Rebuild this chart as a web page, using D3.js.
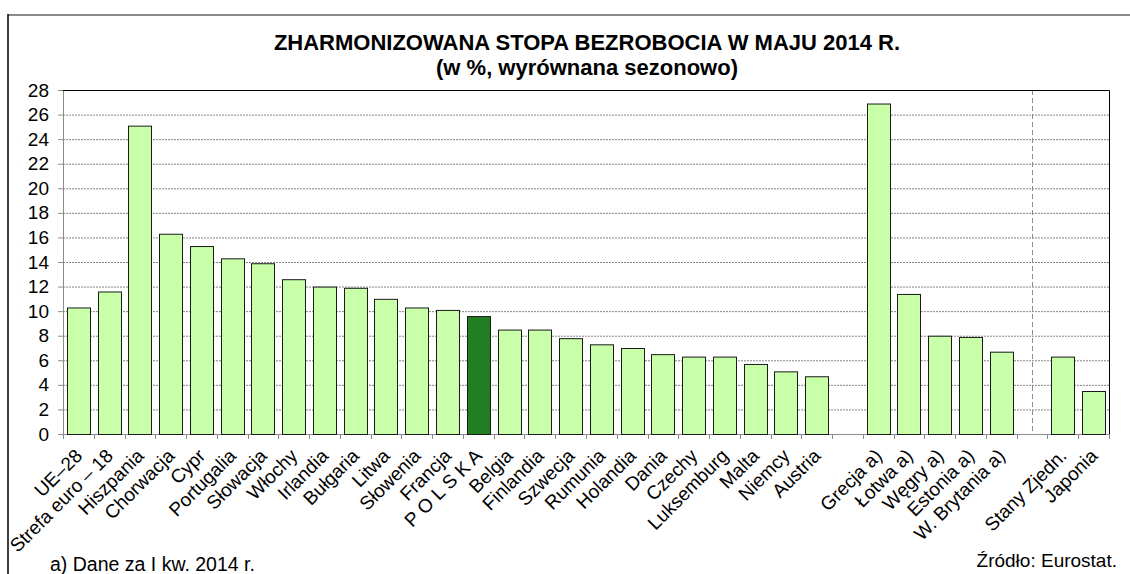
<!DOCTYPE html>
<html>
<head>
<meta charset="utf-8">
<script src="https://cdn.jsdelivr.net/npm/d3@7"></script>
<style>
  body { margin: 0; background: #fff; }
  svg { display: block; }
  text { font-family: "Liberation Sans", Arial, sans-serif; fill: #000; }
</style>
</head>
<body>
<svg id="chart" width="1130" height="574"></svg>
<script>
// Unemployment rate by country, May 2014 (%, seasonally adjusted)
const categories = ["UE–28", "Strefa euro – 18", "Hiszpania", "Chorwacja", "Cypr", "Portugalia",
  "Słowacja", "Włochy", "Irlandia", "Bułgaria", "Litwa", "Słowenia", "Francja", "P O L S K A",
  "Belgia", "Finlandia", "Szwecja", "Rumunia", "Holandia", "Dania", "Czechy", "Luksemburg",
  "Malta", "Niemcy", "Austria", "", "Grecja a)", "Łotwa a)", "Węgry a)", "Estonia a)",
  "W. Brytania a)", "", "Stany Zjedn.", "Japonia"];
const values = [10.3, 11.6, 25.1, 16.3, 15.3, 14.3, 13.9, 12.6, 12.0, 11.9, 11.0, 10.3, 10.1, 9.6,
  8.5, 8.5, 7.8, 7.3, 7.0, 6.5, 6.3, 6.3, 5.7, 5.1, 4.7, null, 26.9, 11.4, 8.0, 7.9, 6.7, null, 6.3, 3.5];
const highlighted = ["P O L S K A"];
const yTicks = [0, 2, 4, 6, 8, 10, 12, 14, 16, 18, 20, 22, 24, 26, 28];
const separatorAfter = 30; // index of the last bar before the dashed divider gap

const titleLines = ["ZHARMONIZOWANA STOPA BEZROBOCIA W MAJU 2014 R.", "(w %, wyrównana sezonowo)"];
const footnote = "a) Dane za I kw. 2014 r.";
const source = "Źródło: Eurostat.";

const svg = d3.select("#chart");
const plot = { left: 63, right: 1109, top: 90, bottom: 434 };

const x = d3.scaleBand()
  .domain(d3.range(categories.length))
  .range([plot.left, plot.right])
  .paddingInner(0.25)
  .paddingOuter(0.125);
const y = d3.scaleLinear().domain([0, 28]).range([plot.bottom, plot.top]);

// outer frame
svg.append("line").attr("x1", 8).attr("x2", 1130).attr("y1", 15).attr("y2", 15)
  .attr("stroke", "#8a8a8a").attr("stroke-width", 2);
svg.append("line").attr("x1", 8).attr("x2", 8).attr("y1", 14).attr("y2", 574)
  .attr("stroke", "#000").attr("stroke-width", 1.5);

// title
svg.selectAll("text.title").data(titleLines).join("text")
  .attr("class", "title")
  .attr("x", 587).attr("y", (d, i) => 50 + i * 25)
  .attr("text-anchor", "middle")
  .style("font-weight", "bold")
  .style("font-size", "22px")
  .text(d => d);

// horizontal grid
svg.append("g").selectAll("line").data(yTicks.filter(t => t > 0 && t < 28)).join("line")
  .attr("x1", plot.left).attr("x2", plot.right)
  .attr("y1", d => y(d) + 0.5).attr("y2", d => y(d) + 0.5)
  .attr("stroke", "#858585").attr("stroke-width", 1).attr("stroke-dasharray", "2,1");

// dashed divider between EU and other countries
const divX = x(separatorAfter) + x.bandwidth() + (x.step() - x.bandwidth()) / 2 + x.step() / 2;
svg.append("line")
  .attr("x1", Math.round(divX) + 0.5).attr("x2", Math.round(divX) + 0.5)
  .attr("y1", plot.top).attr("y2", plot.bottom)
  .attr("stroke", "#8c8c8c").attr("stroke-width", 1).attr("stroke-dasharray", "5,3");

// y axis
const yAxis = svg.append("g").attr("transform", `translate(${plot.left},0)`)
  .call(d3.axisLeft(y).tickValues(yTicks).tickSize(5).tickPadding(9).tickFormat(d3.format("d")));
yAxis.select(".domain").attr("stroke", "#8c8c8c");
yAxis.selectAll(".tick line").attr("stroke", "#8c8c8c");
yAxis.selectAll(".tick text").style("font-size", "19px").attr("fill", "#000")
  .style("font-family", "'Liberation Sans', Arial, sans-serif");

// x axis: tick marks at category boundaries
const boundaries = d3.range(categories.length + 1).map(i => plot.left + i * x.step());
svg.append("line").attr("x1", plot.left).attr("x2", plot.right)
  .attr("y1", plot.bottom + 0.5).attr("y2", plot.bottom + 0.5).attr("stroke", "#8c8c8c");
svg.append("g").selectAll("line").data(boundaries).join("line")
  .attr("x1", d => Math.round(d) + 0.5).attr("x2", d => Math.round(d) + 0.5)
  .attr("y1", plot.bottom).attr("y2", plot.bottom + 5)
  .attr("stroke", "#8c8c8c");

// bars
const barData = categories.map((c, i) => ({ i, c, v: values[i] })).filter(d => d.v != null);
svg.append("g").selectAll("rect").data(barData).join("rect")
  .attr("x", d => Math.round(x(d.i)) + 0.5)
  .attr("y", d => y(d.v) + 0.5)
  .attr("width", Math.round(x.bandwidth()))
  .attr("height", d => y(0) - y(d.v))
  .attr("fill", d => highlighted.includes(d.c) ? "#217e21" : "#c8ffa8")
  .attr("stroke", "#1a1a1a").attr("stroke-width", 1);

// top and right plot border
svg.append("path")
  .attr("d", `M${plot.left},${plot.top + 0.5}H${plot.right + 0.5}V${plot.bottom}`)
  .attr("fill", "none").attr("stroke", "#000").attr("stroke-width", 1);

// category labels
svg.append("g").selectAll("text").data(categories.map((c, i) => ({ c, i })).filter(d => d.c)).join("text")
  .attr("transform", d => `translate(${x(d.i) + x.bandwidth() / 2 + 5},${plot.bottom + 23}) rotate(-45)`)
  .attr("text-anchor", "end")
  .style("font-size", "19px")
  .text(d => d.c);

// notes
svg.append("text").attr("x", 50).attr("y", 571).style("font-size", "19.5px").text(footnote);
svg.append("text").attr("x", 1117).attr("y", 567).attr("text-anchor", "end").style("font-size", "19px").text(source);
</script>
</body>
</html>
